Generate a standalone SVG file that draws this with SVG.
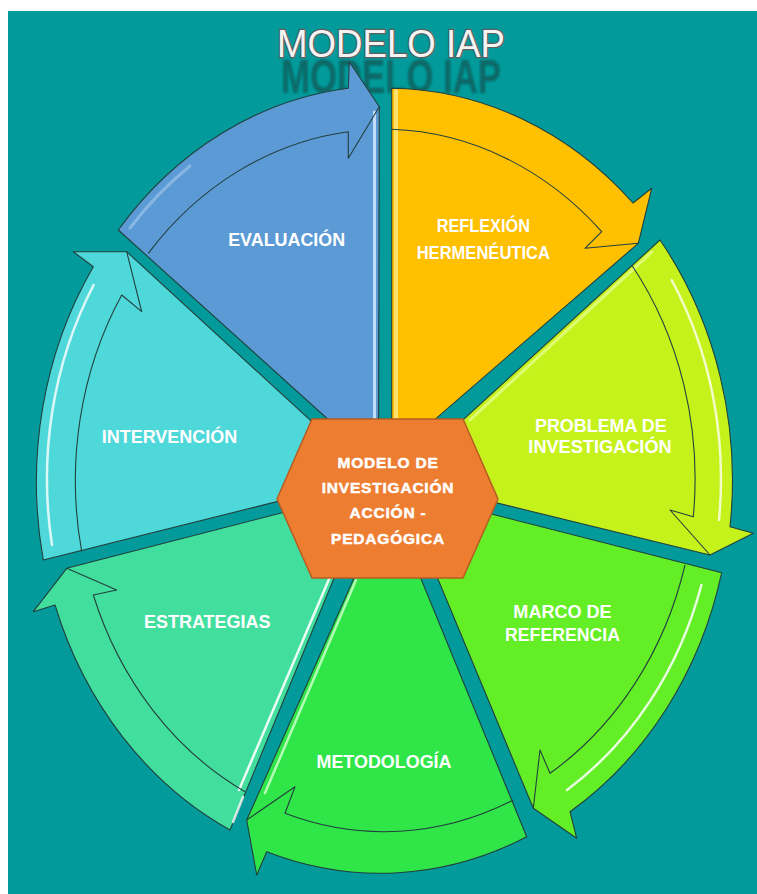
<svg xmlns="http://www.w3.org/2000/svg" width="757" height="894" viewBox="0 0 757 894">
<defs>
<style>
.bg{fill:#029a9a}
.slice{stroke:#22403e;stroke-width:1.1;stroke-linejoin:round}
.aline{fill:none;stroke:#22403e;stroke-width:1.1;stroke-linejoin:round}
.hl{fill:none;stroke-linecap:round}
.lbl{font-family:"Liberation Sans",Arial,sans-serif;font-weight:bold;font-size:18px;fill:#ffffff;text-anchor:middle}
.hext{font-family:"Liberation Sans",Arial,sans-serif;font-weight:bold;font-size:15.5px;fill:#ffffff;stroke:#ffffff;stroke-width:0.5;text-anchor:middle;letter-spacing:0.8px}
</style>
<filter id="blur" x="-10%" y="-30%" width="120%" height="160%"><feGaussianBlur stdDeviation="0.9"/></filter>
</defs>
<rect x="0" y="0" width="757" height="894" fill="#ffffff"/>
<rect class="bg" x="8" y="11" width="749" height="883"/>

<g id="title">
<g transform="translate(391,93) scale(1,1.25)" filter="url(#blur)">
<text x="0" y="0" font-family="Liberation Sans, Arial, sans-serif" font-weight="bold" font-size="38" fill="#095f5e" fill-opacity="0.85" text-anchor="middle" textLength="220" lengthAdjust="spacingAndGlyphs">MODELO IAP</text>
</g>
<text x="391" y="57" font-family="Liberation Sans, Arial, sans-serif" font-size="39" fill="#f4f4f4" stroke="#5e5e5e" stroke-width="2.4" paint-order="stroke" text-anchor="middle" textLength="228" lengthAdjust="spacingAndGlyphs">MODELO IAP</text>
</g>

<g id="evaluacion">
<path class="slice" fill="#5b9ad4" d="M118.3,230 A348,393 0 0 1 348.3,88.3 L349.3,61.7 L379.3,106.7 L378.5,465 Z"/>
<line class="hl" x1="374.5" y1="112" x2="374.5" y2="419" stroke="#cde6ff" stroke-width="3" opacity="0.9"/>
<path class="hl" d="M130,228 A338,383 0 0 1 190,166" stroke="#d6ecff" stroke-width="3" opacity="0.35"/>
<text class="lbl" x="286.7" y="246" textLength="117" lengthAdjust="spacingAndGlyphs">EVALUACIÓN</text>
</g>

<g id="reflexion">
<path class="slice" fill="#ffc000" d="M391.7,88.3 A348,393 0 0 1 633,203 L651.7,188.3 L638.3,243.3 L391.7,456.8 Z"/>
<line class="hl" x1="396" y1="91" x2="396" y2="419" stroke="#ffe680" stroke-width="4" opacity="0.85"/>
<text class="lbl" x="483.3" y="231.7" font-size="16.5" textLength="93.3" lengthAdjust="spacingAndGlyphs">REFLEXIÓN</text>
<text class="lbl" x="483.3" y="259.3" font-size="16.5" textLength="133.3" lengthAdjust="spacingAndGlyphs">HERMENÉUTICA</text>
</g>

<g id="problema">
<path class="slice" fill="#c6f21c" d="M660,240 A348,393 0 0 1 730,526.7 L753.3,533.3 L710,555 L398.4,478.9 Z"/>
<line class="hl" x1="652" y1="252" x2="470" y2="420" stroke="#eaff99" stroke-width="3" opacity="0.7"/>
<text class="lbl" x="600.8" y="431.7" textLength="131.7" lengthAdjust="spacingAndGlyphs">PROBLEMA DE</text>
<text class="lbl" x="600" y="453.3" textLength="143.3" lengthAdjust="spacingAndGlyphs">INVESTIGACIÓN</text>
</g>

<g id="marco">
<path class="slice" fill="#63ee25" d="M721.7,572.7 A348,393 0 0 1 570,811.7 L576.7,838.3 L533.3,808.3 L401.3,491 Z"/>
<text class="lbl" x="562.5" y="618.3" textLength="98.3" lengthAdjust="spacingAndGlyphs">MARCO DE</text>
<text class="lbl" x="562.5" y="640.7" textLength="115" lengthAdjust="spacingAndGlyphs">REFERENCIA</text>
</g>

<g id="metodologia">
<path class="slice" fill="#30e548" d="M526.7,836.7 A348,393 0 0 1 266.7,851.7 L256.7,875 L246.7,820 L388.7,500 Z"/>
<line class="hl" x1="356" y1="580" x2="265" y2="793" stroke="#c8ffc8" stroke-width="2.5" opacity="0.85"/>
<text class="lbl" x="384" y="768.3" textLength="135" lengthAdjust="spacingAndGlyphs">METODOLOGÍA</text>
</g>

<g id="estrategias">
<path class="slice" fill="#42de9e" d="M230,830 A348,393 0 0 1 55,605 L33.3,611.7 L66.7,568.3 L370.5,490 Z"/>
<line class="hl" x1="329.5" y1="578" x2="239" y2="790" stroke="#ffffff" stroke-width="2.5" opacity="0.9"/>
<line class="hl" x1="233" y1="822" x2="243" y2="797" stroke="#ffffff" stroke-width="2.5" opacity="0.8"/>
<text class="lbl" x="207.3" y="628.3" textLength="126.7" lengthAdjust="spacingAndGlyphs">ESTRATEGIAS</text>
</g>

<g id="intervencion">
<path class="slice" fill="#4fd8d9" d="M43.3,560 A348,393 0 0 1 93.3,266.7 L73.3,251.7 L126.7,251.7 L372.8,477.6 Z"/>
<text class="lbl" x="169.5" y="442.7" textLength="135.7" lengthAdjust="spacingAndGlyphs">INTERVENCIÓN</text>
</g>

<g id="connectors">
<path class="aline" d="M148.3,253.3 A312,354 0 0 1 348.3,131.7 L348.3,158.3 L379.3,106.7"/>
<path class="aline" d="M391.7,129.3 A312,354 0 0 1 601.7,231.7 L585,248.3 L638.3,243.3"/>
<path class="aline" d="M631.7,265 A312,354 0 0 1 693.3,516.7 L670,510 L710,555"/>
<path class="aline" d="M685,565 A312,354 0 0 1 550,773.3 L540,750 L533.3,808.3"/>
<path class="aline" d="M513.3,800 A312,354 0 0 1 285,813.3 L295,786.7 L246.7,820"/>
<path class="aline" d="M245,791.7 A312,354 0 0 1 93.3,595 L116.7,590 L66.7,568.3"/>
<path class="aline" d="M81.7,551.7 A312,354 0 0 1 121.7,295 L141.7,311.7 L126.7,251.7"/>
<path class="hl" d="M671.6,280 A336,381 0 0 1 719,520" stroke="#ffffff" stroke-width="2.5" opacity="0.75"/>
<path class="hl" d="M701.4,585 A330,373 0 0 1 567,790" stroke="#ffffff" stroke-width="2.5" opacity="0.85"/>
<path class="hl" d="M52,545 A338,383 0 0 1 93.6,285" stroke="#ffffff" stroke-width="2.5" opacity="0.8"/>
</g>

<g id="centro">
<polygon points="312,419 463,419 498,499 463,578 312,578 277,499" fill="#ed7d31" stroke="#b65c22" stroke-width="1.5"/>
<text class="hext" x="388" y="468">MODELO DE</text>
<text class="hext" x="388" y="493">INVESTIGACIÓN</text>
<text class="hext" x="388" y="518">ACCIÓN -</text>
<text class="hext" x="388" y="544">PEDAGÓGICA</text>
</g>
</svg>
